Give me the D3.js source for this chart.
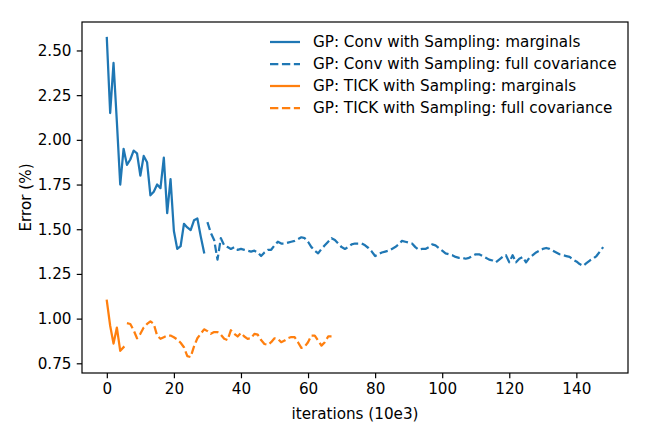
<!DOCTYPE html>
<html>
<head>
<meta charset="utf-8">
<script src="https://cdn.jsdelivr.net/npm/d3@7"></script>
<style>
  html, body { margin: 0; padding: 0; background: #fff; }
  svg { display: block; font-family: "DejaVu Sans", sans-serif; }
</style>
</head>
<body>
<svg id="chart" width="654" height="436"></svg>
<script>
// ---- data ----
const convMargX = d3.range(0, 30);
const convMargY = [2.57, 2.15, 2.43, 2.10, 1.75, 1.95, 1.86, 1.89, 1.94, 1.925,
                   1.80, 1.91, 1.875, 1.69, 1.71, 1.75, 1.73, 1.90, 1.59, 1.78,
                   1.49, 1.39, 1.405, 1.53, 1.51, 1.495, 1.55, 1.56, 1.46, 1.37];

const convFullX = d3.range(30, 149);
const convFullY = [1.54, 1.48, 1.44, 1.33, 1.45, 1.41, 1.40, 1.39, 1.40, 1.385,
                   1.39, 1.385, 1.38, 1.375, 1.38, 1.37, 1.35, 1.37, 1.385, 1.385,
                   1.41, 1.43, 1.42, 1.42, 1.425, 1.43, 1.435, 1.445, 1.455, 1.45,
                   1.43, 1.40, 1.38, 1.365, 1.39, 1.41, 1.43, 1.45, 1.44, 1.42,
                   1.40, 1.39, 1.40, 1.415, 1.42, 1.42, 1.42, 1.41, 1.395, 1.375,
                   1.35, 1.36, 1.37, 1.375, 1.38, 1.39, 1.40, 1.415, 1.435, 1.43,
                   1.425, 1.42, 1.40, 1.385, 1.39, 1.39, 1.40, 1.415, 1.41, 1.395,
                   1.38, 1.365, 1.36, 1.355, 1.345, 1.34, 1.34, 1.335, 1.34, 1.35,
                   1.36, 1.36, 1.35, 1.34, 1.33, 1.325, 1.315, 1.33, 1.345, 1.355,
                   1.315, 1.355, 1.315, 1.335, 1.345, 1.315, 1.34, 1.355, 1.37, 1.38,
                   1.39, 1.395, 1.39, 1.38, 1.37, 1.36, 1.355, 1.35, 1.345, 1.33,
                   1.32, 1.305, 1.295, 1.31, 1.325, 1.335, 1.35, 1.375, 1.40];

const tickMargX = d3.range(0, 6);
const tickMargY = [1.10, 0.96, 0.86, 0.95, 0.82, 0.84];

const tickFullX = d3.range(6, 68);
const tickFullY = [0.975, 0.97, 0.935, 0.89, 0.915, 0.95, 0.97, 0.985, 0.97, 0.905,
                   0.887, 0.896, 0.905, 0.905, 0.896, 0.883, 0.865, 0.84, 0.79, 0.785,
                   0.845, 0.89, 0.915, 0.94, 0.93, 0.915, 0.925, 0.925, 0.91, 0.887,
                   0.88, 0.935, 0.915, 0.90, 0.92, 0.90, 0.887, 0.89, 0.915, 0.91,
                   0.88, 0.858, 0.853, 0.868, 0.89, 0.887, 0.868, 0.877, 0.89, 0.897,
                   0.896, 0.868, 0.836, 0.843, 0.868, 0.905, 0.905, 0.877, 0.849, 0.868,
                   0.90, 0.90];

const seriesNames = ["GP: Conv with Sampling: marginals",
                     "GP: Conv with Sampling: full covariance",
                     "GP: TICK with Sampling: marginals",
                     "GP: TICK with Sampling: full covariance"];
const seriesColors = ["#1f77b4", "#1f77b4", "#ff7f0e", "#ff7f0e"];
const seriesDashed = [false, true, false, true];

const xTicks = [0, 20, 40, 60, 80, 100, 120, 140];
const yTicks = [0.75, 1.00, 1.25, 1.50, 1.75, 2.00, 2.25, 2.50];
const xLabel = "iterations (10e3)";
const yLabel = "Error (%)";

// ---- layout ----
const L = 82, R = 628, T = 22, B = 373;
const FS = 15.2;
const PT = 1.5;
const svg = d3.select("#chart");

const allX = [...convMargX, ...convFullX, ...tickMargX, ...tickFullX];
const allY = [...convMargY, ...convFullY, ...tickMargY, ...tickFullY];
const [xmin, xmax] = d3.extent(allX);
const [ymin, ymax] = d3.extent(allY);
const xm = (xmax - xmin) * 0.05, ym = (ymax - ymin) * 0.05;

const x = d3.scaleLinear().domain([xmin - xm, xmax + xm]).range([L, R]);
const y = d3.scaleLinear().domain([ymin - ym, ymax + ym]).range([B, T]);

const series = [
  {xs: convMargX, ys: convMargY},
  {xs: convFullX, ys: convFullY},
  {xs: tickMargX, ys: tickMargY},
  {xs: tickFullX, ys: tickFullY}
];

const line = d3.line().x(d => x(d[0])).y(d => y(d[1]));
const lw = 1.5 * PT;
const dash = `${(3.7 * lw).toFixed(2)},${(1.6 * lw).toFixed(2)}`;

const plot = svg.append("g");
series.forEach((s, i) => {
  plot.append("path")
    .datum(s.xs.map((v, j) => [v, s.ys[j]]))
    .attr("d", line)
    .attr("fill", "none")
    .attr("stroke", seriesColors[i])
    .attr("stroke-width", lw)
    .attr("stroke-linejoin", "round")
    .attr("stroke-linecap", seriesDashed[i] ? "butt" : "square")
    .attr("stroke-dasharray", seriesDashed[i] ? dash : null);
});

// axes
const xAxis = d3.axisBottom(x).tickValues(xTicks).tickFormat(d3.format("d"))
  .tickSizeInner(3.5 * PT).tickSizeOuter(0).tickPadding(3.5 * PT);
const yAxis = d3.axisLeft(y).tickValues(yTicks).tickFormat(d3.format(".2f"))
  .tickSizeInner(3.5 * PT).tickSizeOuter(0).tickPadding(3.5 * PT);

const gx = svg.append("g").attr("transform", `translate(0,${B})`).call(xAxis);
const gy = svg.append("g").attr("transform", `translate(${L},0)`).call(yAxis);
[gx, gy].forEach(g => {
  g.select(".domain").remove();
  g.selectAll(".tick line").attr("stroke", "#000").attr("stroke-width", 0.8 * PT);
  g.selectAll(".tick text").attr("fill", "#000")
    .style("font-family", "DejaVu Sans").style("font-size", FS + "px");
});

// frame
svg.append("rect").attr("x", L).attr("y", T).attr("width", R - L).attr("height", B - T)
  .attr("fill", "none").attr("stroke", "#000").attr("stroke-width", 0.8 * PT);

// labels
svg.append("text").attr("x", (L + R) / 2).attr("y", 419)
  .attr("text-anchor", "middle").style("font-size", FS + "px").text(xLabel);
svg.append("text")
  .attr("transform", `translate(31,${(T + B) / 2}) rotate(-90)`)
  .attr("text-anchor", "middle").style("font-size", FS + "px").text(yLabel);

// legend
const lg = svg.append("g");
seriesNames.forEach((name, i) => {
  const yy = 42 + i * 22;
  lg.append("line").attr("x1", 270).attr("x2", 300).attr("y1", yy).attr("y2", yy)
    .attr("stroke", seriesColors[i]).attr("stroke-width", lw)
    .attr("stroke-dasharray", seriesDashed[i] ? dash : null);
  lg.append("text").attr("x", 313).attr("y", yy).attr("dy", "0.36em")
    .style("font-size", FS + "px").text(name);
});
</script>
</body>
</html>
